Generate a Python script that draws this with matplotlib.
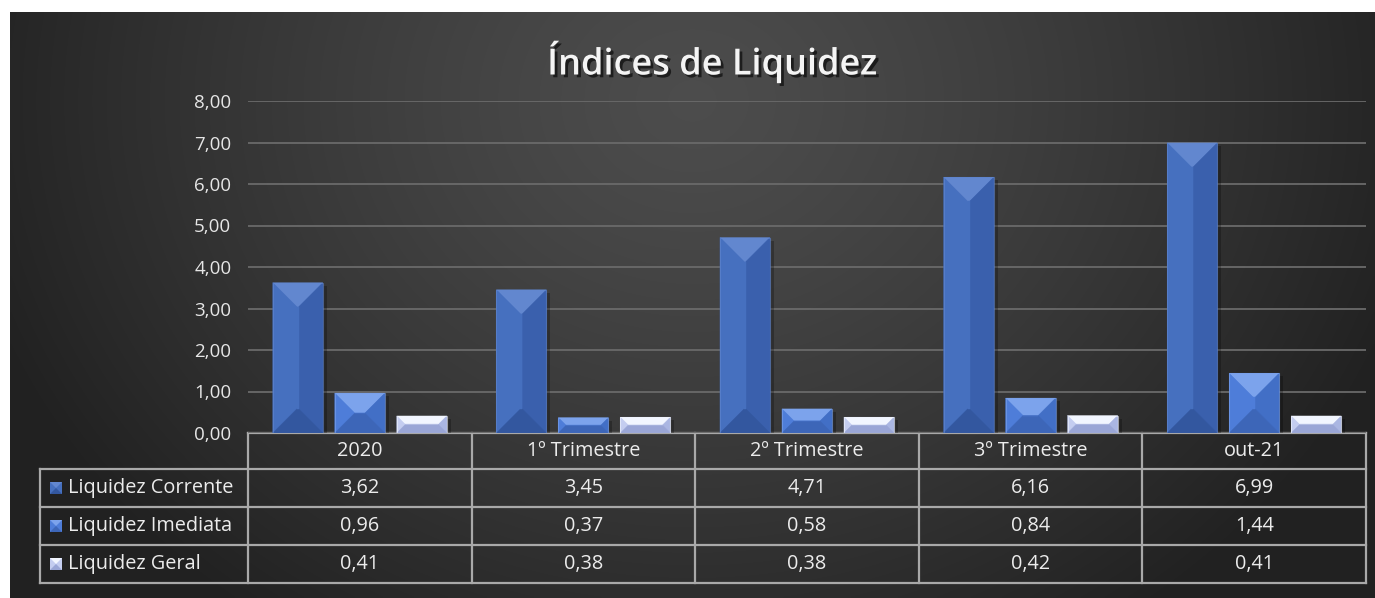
import matplotlib
matplotlib.use("Agg")
import matplotlib.pyplot as plt
import matplotlib.patheffects as pe
from matplotlib.patches import Polygon, Rectangle
import numpy as np

categories = ["2020", "1º Trimestre", "2º Trimestre", "3º Trimestre", "out-21"]
series_names = ["Liquidez Corrente", "Liquidez Imediata", "Liquidez Geral"]
corrente = [3.62, 3.45, 4.71, 6.16, 6.99]
imediata = [0.96, 0.37, 0.58, 0.84, 1.44]
geral = [0.41, 0.38, 0.38, 0.42, 0.41]
yticks = [0, 1, 2, 3, 4, 5, 6, 7, 8]

# face colours per series: (top, left, right, bottom)
faces = [
    ("#6287cf", "#4670bf", "#3a60ad", "#33579f"),
    ("#7ca3ec", "#4e7dd9", "#426fc6", "#3d66b8"),
    ("#f2f6ff", "#c4cdf0", "#aab6e2", "#9aa6d6"),
]

W, H = 1375, 598
fig = plt.figure(figsize=(W / 100, H / 100), dpi=100)
fig.patch.set_facecolor("white")

# full-figure axes in pixel coords for background + table
bg = fig.add_axes([0, 0, 1, 1])
bg.set_xlim(0, W)
bg.set_ylim(H, 0)
bg.axis("off")

# radial-ish gradient background
gx = np.linspace(0, 1, 400)
gy = np.linspace(0, 1, 200)
GX, GY = np.meshgrid(gx, gy)
r = np.sqrt(((GX - 0.5) / 0.55) ** 2 + ((GY - 0.15) / 1.1) ** 2)
val = 0.30 - 0.17 * np.clip(r, 0, 1) ** 1.3
img = np.dstack([val, val, val])
bg.imshow(img, extent=[10, W, H, 12], aspect="auto", zorder=0, interpolation="bilinear")

bg.text(712, 62, "Índices de Liquidez", ha="center", va="center", fontsize=26,
        fontweight=600, color="#f4f4f4", family="Open Sans",
        path_effects=[pe.withSimplePatchShadow(offset=(2, -2), shadow_rgbFace="black", alpha=0.6)])

# chart axes
x_left, x_right = 248, 1366
y_zero, y_top = 433, 101
ax = fig.add_axes([x_left / W, 1 - y_zero / H, (x_right - x_left) / W, (y_zero - y_top) / H])
ax.set_facecolor("none")
ax.set_xlim(-0.5, len(categories) - 0.5)
ax.set_ylim(0, 8)
for s in ax.spines.values():
    s.set_visible(False)
ax.set_xticks([])
ax.set_yticks(yticks)
ax.set_yticklabels([f"{t:.2f}".replace(".", ",") for t in yticks], fontsize=13.5,
                   color="#e6e6e6", family="Open Sans")
ax.tick_params(axis="y", length=0, pad=12)
ax.yaxis.grid(True, color="#6a6a6a", linewidth=1.3)
ax.set_axisbelow(True)

px_x = (x_right - x_left) / len(categories)  # px per x unit
px_y = (y_zero - y_top) / 8.0                  # px per y unit
bar_w = 50 / px_x
offset = 62 / px_x
bevel_px = 24

x = np.arange(len(categories))
all_series = [corrente, imediata, geral]
for si, vals in enumerate(all_series):
    top_c, left_c, right_c, bot_c = faces[si]
    bars = ax.bar(x + (si - 1) * offset, vals, width=bar_w, color=left_c, zorder=3)
    for b in bars:
        x0, y0 = b.get_x(), b.get_y()
        x1, y1 = x0 + b.get_width(), y0 + b.get_height()
        wpx = b.get_width() * px_x
        hpx = b.get_height() * px_y
        bp = min(bevel_px, wpx / 2, hpx / 2)
        dx, dy = bp / px_x, bp / px_y
        # shadow
        ax.add_patch(Rectangle((x1, y0), 4 / px_x, (y1 - y0) - 3 / px_y, color="black",
                               alpha=0.25, zorder=2, lw=0))
        ix0, ix1, iy0, iy1 = x0 + dx, x1 - dx, y0 + dy, y1 - dy
        polys = [
            ([(x0, y1), (x1, y1), (ix1, iy1), (ix0, iy1)], top_c),
            ([(x0, y0), (x0, y1), (ix0, iy1), (ix0, iy0)], left_c),
            ([(x1, y0), (x1, y1), (ix1, iy1), (ix1, iy0)], right_c),
            ([(x0, y0), (x1, y0), (ix1, iy0), (ix0, iy0)], bot_c),
            ([(ix0, iy0), (ix1, iy0), (ix1, iy1), (ix0, iy1)], left_c),
        ]
        for pts, c in polys:
            ax.add_patch(Polygon(pts, closed=True, facecolor=c, edgecolor=c, lw=0.3, zorder=4))
        ax.add_patch(Rectangle((x0, y0), x1 - x0, y1 - y0, fill=False,
                               edgecolor=top_c, lw=0.8, alpha=0.6, zorder=5))

# data table
line_c = "#a9a9a9"
txt_c = "#ececec"
tbl_left = 40
fs = 14.3
row_edges = [433, 469, 507, 545, 583]
col_edges = [x_left + px_x * i for i in range(len(categories) + 1)]
bg.plot([x_left, x_right], [row_edges[0]] * 2, color=line_c, lw=1.6, zorder=5)
for ye in row_edges[1:]:
    bg.plot([tbl_left, x_right], [ye, ye], color=line_c, lw=1.6, zorder=5)
bg.plot([tbl_left, tbl_left], [row_edges[1], row_edges[-1]], color=line_c, lw=1.6, zorder=5)
for xe in col_edges:
    bg.plot([xe, xe], [row_edges[0], row_edges[-1]], color=line_c, lw=1.6, zorder=5)

for i, cat in enumerate(categories):
    cx = (col_edges[i] + col_edges[i + 1]) / 2
    bg.text(cx, (row_edges[0] + row_edges[1]) / 2, cat, ha="center", va="center",
            fontsize=fs, color=txt_c, family="Open Sans", zorder=6)
    for si, vals in enumerate(all_series):
        cy = (row_edges[si + 1] + row_edges[si + 2]) / 2
        bg.text(cx, cy, f"{vals[i]:.2f}".replace(".", ","), ha="center", va="center",
                fontsize=fs, color=txt_c, family="Open Sans", zorder=6)

for si, name in enumerate(series_names):
    cy = (row_edges[si + 1] + row_edges[si + 2]) / 2
    top_c, left_c, right_c, bot_c = faces[si]
    kx0, kx1, ky0, ky1 = 50, 62, cy - 6, cy + 6
    bg.add_patch(Polygon([(kx0, ky0), (kx1, ky0), (kx1, ky1), (kx0, ky1)], facecolor=left_c, lw=0, zorder=6))
    bg.add_patch(Polygon([(kx0, ky0), (kx1, ky0), ((kx0 + kx1) / 2, cy)], facecolor=top_c, lw=0, zorder=7))
    bg.add_patch(Polygon([(kx0, ky1), (kx1, ky1), ((kx0 + kx1) / 2, cy)], facecolor=bot_c, lw=0, zorder=7))
    bg.text(68, cy, name, ha="left", va="center", fontsize=fs, color=txt_c,
            family="Open Sans", zorder=6)

fig.savefig("out.png", dpi=100, facecolor=fig.get_facecolor())
